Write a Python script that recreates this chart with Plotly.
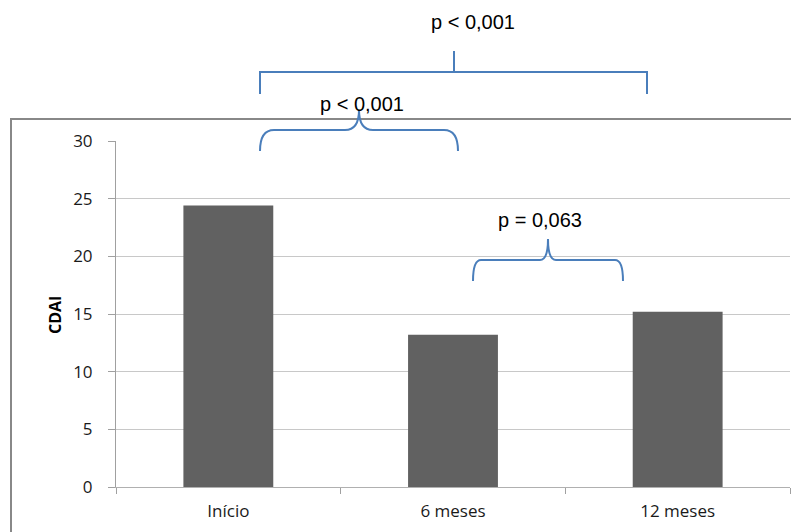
import plotly.graph_objects as go

categories = ["Início", "6 meses", "12 meses"]
cdai_values = [24.4, 13.2, 15.2]
y_ticks = [0, 5, 10, 15, 20, 25, 30]
p_labels = ["p < 0,001", "p < 0,001", "p = 0,063"]

OFF = 8  # page body margin
W, H = 799 - OFF, 532 - OFF
# plot area in screen pixels
SX0, SX1, SY0, SY1 = 116, 790, 141, 487
L, R, T, B = SX0 - OFF, W - (SX1 - OFF), SY0 - OFF, H - (SY1 - OFF)
PW, PH = SX1 - SX0, SY1 - SY0

def px(x):
    return (x - SX0) / PW

def py(y):
    return (SY1 - y) / PH

fig = go.Figure()
fig.add_trace(go.Bar(
    x=categories, y=cdai_values,
    marker=dict(color="#616161", line=dict(width=0)),
    width=0.4,
))

blue = "#4a7ebb"

def brace(x1, x2, xc, yb, yh, yt, r=12):
    pts = (f"M {px(x1)},{py(yb)} Q {px(x1)},{py(yh)} {px(x1 + r)},{py(yh)} "
           f"L {px(xc - r)},{py(yh)} Q {px(xc)},{py(yh)} {px(xc)},{py(yt)} "
           f"Q {px(xc)},{py(yh)} {px(xc + r)},{py(yh)} "
           f"L {px(x2 - r)},{py(yh)} Q {px(x2)},{py(yh)} {px(x2)},{py(yb)}")
    return dict(type="path", xref="paper", yref="paper", path=pts,
                line=dict(color=blue, width=2))

shapes = [
    dict(type="rect", xref="paper", yref="paper",
         x0=px(11), x1=px(812), y0=py(545), y1=py(119),
         line=dict(color="#888888", width=2), fillcolor="rgba(0,0,0,0)", layer="below"),
    dict(type="path", xref="paper", yref="paper",
         path=(f"M {px(260)},{py(94)} L {px(260)},{py(72)} L {px(647)},{py(72)} "
               f"L {px(647)},{py(94)} M {px(454)},{py(72)} L {px(454)},{py(51)}"),
         line=dict(color=blue, width=2)),
    brace(260, 458, 359, 151, 130, 110, r=14),
    brace(473, 623, 548, 281, 260, 239, r=8),
]

pfont = dict(family="Liberation Sans, Arial", size=20, color="#000")
annotations = [
    dict(text=p_labels[0], x=px(473), y=py(22), xref="paper", yref="paper",
         showarrow=False, xanchor="center", yanchor="middle", font=pfont),
    dict(text=p_labels[1], x=px(362), y=py(104), xref="paper", yref="paper",
         showarrow=False, xanchor="center", yanchor="middle", font=pfont),
    dict(text=p_labels[2], x=px(540), y=py(220), xref="paper", yref="paper",
         showarrow=False, xanchor="center", yanchor="middle", font=pfont),
    dict(text="<b>CDAI</b>", x=px(55), y=py(315), xref="paper", yref="paper",
         showarrow=False, textangle=-90, xanchor="center", yanchor="middle",
         font=dict(family="Open Sans", size=16, color="#000")),
]

fig.update_layout(
    width=W, height=H,
    margin=dict(l=L, r=R, t=T, b=B, pad=0),
    paper_bgcolor="white", plot_bgcolor="white",
    showlegend=False,
    shapes=shapes, annotations=annotations,
    font=dict(family="Open Sans", size=17, color="#222"),
)
fig.update_xaxes(
    range=[-0.5, 2.5], showline=True, linecolor="#b0b0b0", linewidth=1,
    ticks="outside", tickson="boundaries", ticklen=6, tickcolor="#a0a0a0",
    showgrid=False, tickfont=dict(family="Open Sans", size=17, color="#1a1a1a"),
    ticklabelstandoff=9,
    fixedrange=True,
)
fig.update_yaxes(
    range=[0, 30], tickvals=y_ticks, showline=True, linecolor="#a0a0a0", linewidth=1,
    ticks="outside", ticklen=7, tickcolor="#a0a0a0",
    showgrid=True, gridcolor="#c8c8c8", gridwidth=1, zeroline=False,
    tickfont=dict(family="Open Sans", size=17, color="#1a1a1a"),
    ticklabelstandoff=12,
    fixedrange=True,
)

fig.write_html("out.html")
